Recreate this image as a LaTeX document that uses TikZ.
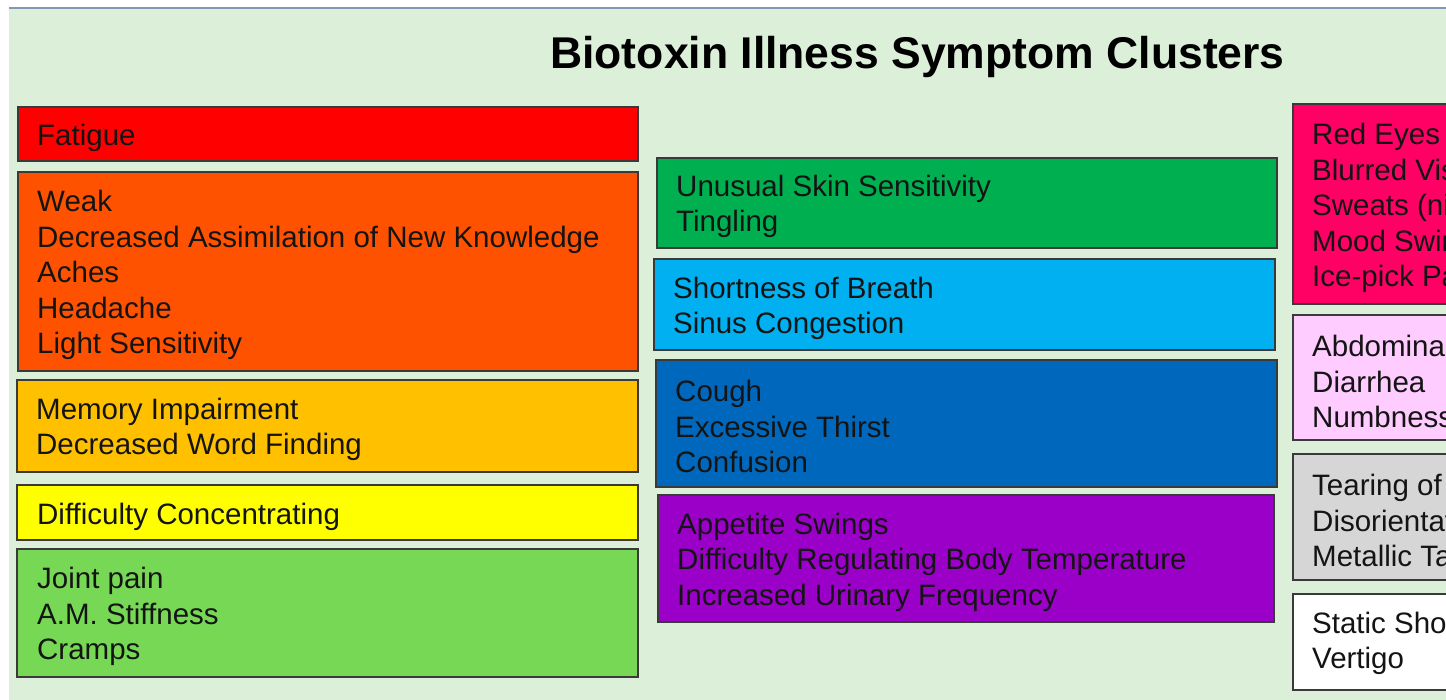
\documentclass[tikz,border=0pt]{standalone}
\usepackage{fontspec}
\setmainfont{Liberation Sans}
\definecolor{bg}{HTML}{DCF0D9}
\definecolor{topline}{HTML}{8098B0}
\definecolor{boxline}{HTML}{3A3A3A}
\definecolor{cFat}{HTML}{FF0000}
\definecolor{cWeak}{HTML}{FE5200}
\definecolor{cMem}{HTML}{FFC000}
\definecolor{cDiff}{HTML}{FFFF00}
\definecolor{cJoint}{HTML}{76D854}
\definecolor{cSkin}{HTML}{00B050}
\definecolor{cBreath}{HTML}{00B0F0}
\definecolor{cCough}{HTML}{0068BC}
\definecolor{cApp}{HTML}{9A00C8}
\definecolor{cRed}{HTML}{FF0064}
\definecolor{cAbd}{HTML}{FFCCFF}
\definecolor{cTear}{HTML}{D6D6D6}
\definecolor{cStat}{HTML}{FFFFFF}
\definecolor{txt}{HTML}{141414}
\begin{document}
\begin{tikzpicture}[x=1pt,y=-1pt,
  cluster/.style={draw=boxline,line width=1.8pt},
  ctext/.style={anchor=west,align=left,inner sep=0pt,yshift=-3.5pt,text=txt,font=\fontsize{29.5}{35.6}\selectfont},
  ttl/.style={anchor=base,inner sep=0pt,font=\fontsize{44.5}{50}\selectfont\bfseries}]
\clip (0,0) rectangle (1446,700);
\fill[white] (0,0) rectangle (1446,700);
\fill[bg] (9,8) rectangle (1446,700);
\draw[topline,line width=2.2pt] (9,8) -- (1446,8);
\node[ttl] (title) at (917.5,69) {Biotoxin Illness Symptom Clusters};
% left column
\draw[cluster,fill=cFat] (18,107) rectangle (638,161);
\node[ctext] (fat) at (37,134) {Fatigue};
\draw[cluster,fill=cWeak] (18,172) rectangle (638,371);
\node[ctext] (weak) at (37,271.5) {Weak\\Decreased Assimilation of New Knowledge\\Aches\\Headache\\Light Sensitivity};
\draw[cluster,fill=cMem] (17,380) rectangle (638,472);
\node[ctext] (mem) at (36,426) {Memory Impairment\\Decreased Word Finding};
\draw[cluster,fill=cDiff] (17,485) rectangle (638,540);
\node[ctext] (diff) at (37,513) {Difficulty Concentrating};
\draw[cluster,fill=cJoint] (17,549) rectangle (638,677);
\node[ctext] (joint) at (37,613) {Joint pain\\A.M. Stiffness\\Cramps};
% middle column
\draw[cluster,fill=cSkin] (657,158) rectangle (1277,248);
\node[ctext] (skin) at (676,203) {Unusual Skin Sensitivity\\Tingling};
\draw[cluster,fill=cBreath] (654,259) rectangle (1275,350);
\node[ctext] (breath) at (673,305) {Shortness of Breath\\Sinus Congestion};
\draw[cluster,fill=cCough] (656,360) rectangle (1277,487);
\node[ctext] (cough) at (675,423) {Cough\\Excessive Thirst\\Confusion};
\draw[cluster,fill=cApp] (658,495) rectangle (1274,622);
\node[ctext] (app) at (677,558.5) {Appetite Swings\\Difficulty Regulating Body Temperature\\Increased Urinary Frequency};
% right column
\draw[cluster,fill=cRed] (1293,104) rectangle (1500,304);
\node[ctext] (red) at (1312,204.5) {Red Eyes\\Blurred Vision\\Sweats (night)\\Mood Swings\\Ice-pick Pain};
\draw[cluster,fill=cAbd] (1293,315) rectangle (1500,440);
\node[ctext] (abd) at (1312,378) {Abdominal Pain\\Diarrhea\\Numbness};
\draw[cluster,fill=cTear] (1293,454) rectangle (1500,580);
\node[ctext] (tear) at (1312,517) {Tearing of Eyes\\Disorientation\\Metallic Taste};
\draw[cluster,fill=cStat] (1293,594) rectangle (1500,690);
\node[ctext] (stat) at (1312,640) {Static Shocks\\Vertigo};
\end{tikzpicture}
\end{document}
